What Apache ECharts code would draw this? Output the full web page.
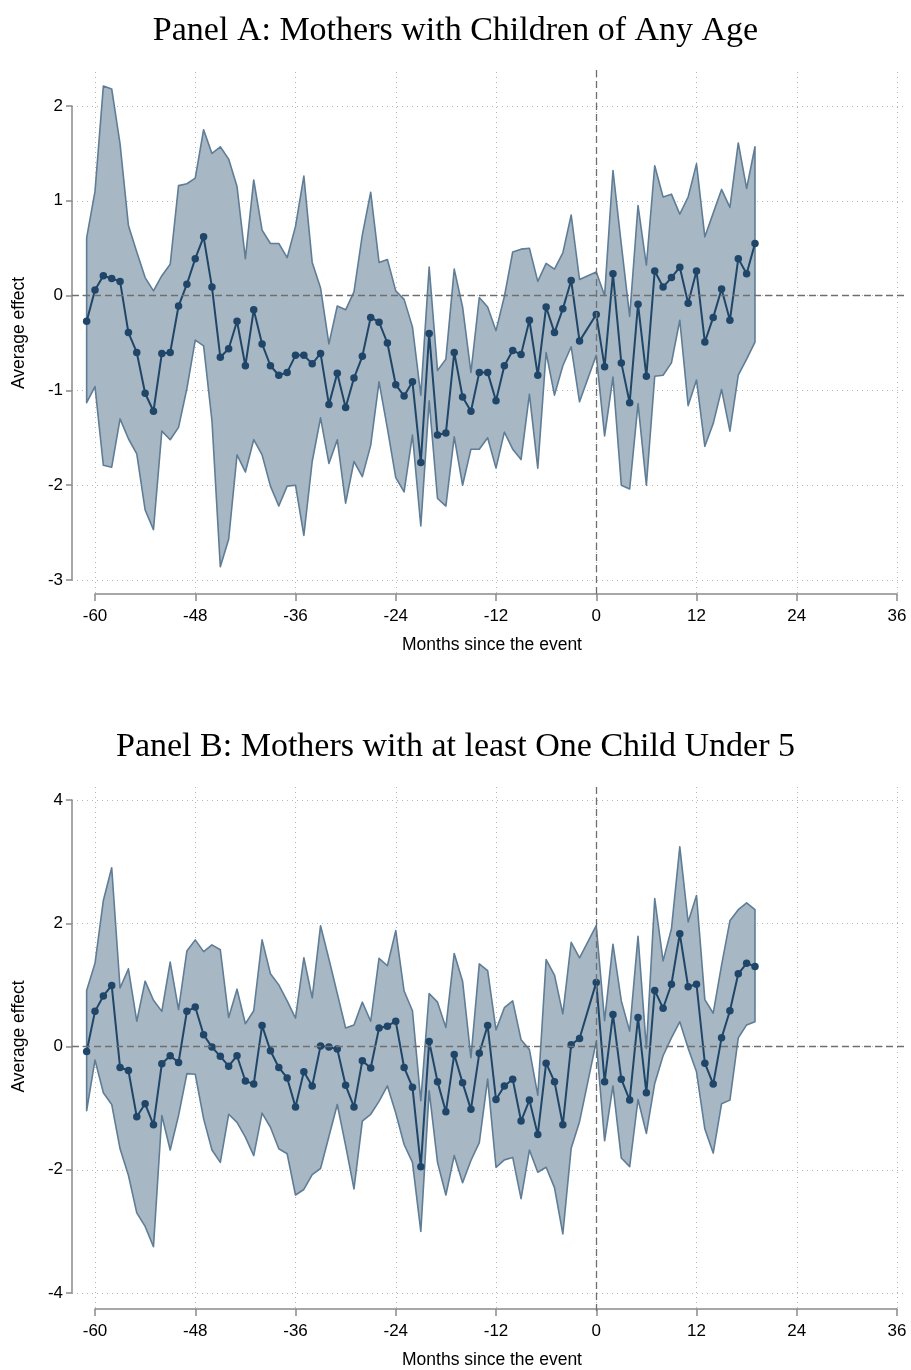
<!DOCTYPE html>
<html>
<head>
<meta charset="utf-8">
<title>Event study: mothers</title>
<script src="https://cdn.jsdelivr.net/npm/echarts@6/dist/echarts.min.js"></script>
<style>
  html, body { margin: 0; padding: 0; background: #fff; }
  #chart { width: 911px; height: 1370px; }
</style>
</head>
<body>
<div id="chart"></div>
<script>
// Months relative to the event (month -1 is the omitted reference period)
const months = [
  -61, -60, -59, -58, -57, -56, -55, -54, -53, -52, -51, -50, -49, -48, -47, -46, -45, -44, -43, -42,
  -41, -40, -39, -38, -37, -36, -35, -34, -33, -32, -31, -30, -29, -28, -27, -26, -25, -24, -23, -22,
  -21, -20, -19, -18, -17, -16, -15, -14, -13, -12, -11, -10, -9, -8, -7, -6, -5, -4, -3, -2,
  0, 1, 2, 3, 4, 5, 6, 7, 8, 9, 10, 11, 12, 13, 14, 15, 16, 17, 18, 19
];

// Panel A: mothers with children of any age
const meanA = [
  -0.27, 0.06, 0.21, 0.18, 0.15, -0.39, -0.60, -1.03, -1.22, -0.61, -0.60, -0.11, 0.12, 0.39, 0.62, 0.09, -0.65, -0.56, -0.27, -0.74,
  -0.15, -0.51, -0.74, -0.84, -0.81, -0.63, -0.63, -0.72, -0.61, -1.15, -0.82, -1.18, -0.87, -0.64, -0.23, -0.28, -0.50, -0.94, -1.06, -0.91,
  -1.76, -0.40, -1.47, -1.45, -0.60, -1.07, -1.22, -0.81, -0.81, -1.11, -0.74, -0.58, -0.62, -0.26, -0.84, -0.12, -0.39, -0.14, 0.16, -0.48,
  -0.20, -0.75, 0.23, -0.71, -1.13, -0.09, -0.85, 0.26, 0.09, 0.19, 0.30, -0.08, 0.26, -0.49, -0.23, 0.07, -0.26, 0.39, 0.23, 0.55
];
const upperA = [
  0.61, 1.10, 2.21, 2.18, 1.60, 0.74, 0.46, 0.19, 0.05, 0.21, 0.33, 1.16, 1.18, 1.24, 1.75, 1.50, 1.57, 1.44, 1.15, 0.39,
  1.22, 0.69, 0.55, 0.55, 0.40, 0.73, 1.26, 0.35, 0.08, -0.51, -0.11, -0.15, 0.04, 0.64, 1.09, 0.35, 0.38, 0.05, -0.04, -0.33,
  -1.05, 0.30, -0.79, -0.67, 0.28, -0.12, -0.81, -0.02, -0.12, -0.37, -0.01, 0.46, 0.49, 0.50, 0.15, 0.34, 0.28, 0.45, 0.85, 0.17,
  0.25, 0.00, 1.32, 0.54, -0.22, 0.95, 0.32, 1.37, 1.04, 1.07, 0.86, 1.04, 1.39, 0.62, 0.87, 1.12, 0.93, 1.61, 1.13, 1.57
];
const lowerA = [
  -1.13, -0.96, -1.79, -1.81, -1.30, -1.51, -1.67, -2.26, -2.47, -1.43, -1.52, -1.39, -0.98, -0.47, -0.53, -1.32, -2.86, -2.57, -1.68, -1.86,
  -1.52, -1.68, -2.01, -2.22, -2.01, -2.00, -2.53, -1.75, -1.29, -1.77, -1.52, -2.19, -1.75, -1.91, -1.58, -0.91, -1.40, -1.92, -2.07, -1.47,
  -2.43, -1.11, -2.14, -2.22, -1.49, -2.00, -1.62, -1.62, -1.50, -1.82, -1.44, -1.62, -1.73, -1.04, -1.82, -0.60, -1.05, -0.74, -0.54, -1.12,
  -0.63, -1.48, -0.86, -2.00, -2.04, -1.14, -2.00, -0.85, -0.84, -0.71, -0.26, -1.16, -0.89, -1.59, -1.35, -0.99, -1.43, -0.84, -0.67, -0.49
];

// Panel B: mothers with at least one child under 5
const meanB = [
  -0.08, 0.57, 0.82, 0.99, -0.34, -0.39, -1.14, -0.93, -1.27, -0.28, -0.15, -0.26, 0.57, 0.64, 0.19, -0.01, -0.16, -0.32, -0.15, -0.56,
  -0.61, 0.34, -0.07, -0.34, -0.51, -0.98, -0.41, -0.64, 0.01, -0.01, -0.04, -0.63, -0.98, -0.23, -0.35, 0.30, 0.33, 0.41, -0.34, -0.66,
  -1.95, 0.08, -0.57, -1.06, -0.13, -0.59, -1.02, -0.11, 0.34, -0.86, -0.64, -0.53, -1.21, -0.87, -1.43, -0.27, -0.57, -1.27, 0.03, 0.13,
  1.04, -0.57, 0.52, -0.53, -0.87, 0.47, -0.75, 0.91, 0.62, 1.01, 1.83, 0.97, 1.01, -0.27, -0.61, 0.14, 0.58, 1.18, 1.35, 1.30
];
const upperB = [
  0.91, 1.35, 2.37, 2.90, 0.95, 1.26, 0.41, 1.06, 0.75, 0.57, 1.37, 0.60, 1.55, 1.73, 1.54, 1.65, 1.57, 0.47, 0.93, 0.37,
  0.58, 1.73, 1.18, 1.00, 0.74, 0.46, 1.44, 0.79, 1.96, 1.42, 0.86, 0.30, 0.35, 0.72, 0.41, 1.43, 1.31, 1.88, 0.90, 0.58,
  -0.88, 0.86, 0.72, 0.31, 1.51, 1.06, -0.18, 1.34, 1.23, 0.27, 0.63, 0.74, 0.11, -0.05, -0.79, 1.41, 1.16, 0.53, 1.69, 1.44,
  1.96, 0.42, 1.66, 0.74, 0.25, 1.79, -0.03, 2.40, 1.39, 1.91, 3.24, 2.02, 2.45, 0.76, 0.54, 1.32, 2.04, 2.22, 2.33, 2.22
];
const lowerB = [
  -1.04, -0.22, -0.75, -0.94, -1.66, -2.09, -2.70, -2.92, -3.25, -1.12, -1.68, -1.12, -0.44, -0.45, -1.17, -1.68, -1.88, -1.10, -1.23, -1.47,
  -1.77, -1.08, -1.31, -1.66, -1.74, -2.41, -2.32, -2.08, -1.98, -1.46, -0.94, -1.61, -2.31, -1.21, -1.10, -0.89, -0.64, -1.08, -1.59, -1.88,
  -3.00, -0.72, -1.88, -2.41, -1.77, -2.21, -1.85, -1.56, -0.53, -1.96, -1.84, -1.80, -2.47, -1.68, -2.04, -1.96, -2.29, -3.04, -1.65, -1.22,
  0.08, -1.53, -0.64, -1.81, -1.95, -0.86, -1.41, -0.60, -0.15, 0.14, 0.40, -0.03, -0.41, -1.34, -1.73, -0.93, -0.87, 0.14, 0.35, 0.40
];

// Axis ticks and texts
const xTicks = { min: -60, max: 36, step: 12 };
const yTicksA = { min: -3, max: 2, step: 1 };
const yTicksB = { min: -4, max: 4, step: 2 };
const titles = ['Panel A: Mothers with Children of Any Age', 'Panel B: Mothers with at least One Child Under 5'];
const xName = 'Months since the event';
const yName = 'Average effect';

// ---- styling ----
const FILL = '#a7b7c4';
const EDGE = '#5f7d96';
const MEAN = '#1f4668';
const AXIS = '#8a8a8a';
const GRIDC = '#b5b5b5';
const REF = '#6f6f6f';
const SANS = '"Liberation Sans", Arial, Helvetica, sans-serif';
const SERIF = '"Liberation Serif", "DejaVu Serif", serif';

// pixel layout of a panel: x tick span, y tick span, plotted region
const X0 = 95, X1 = 897;          // x = -60 .. 36
const PL = 72, PR = 907;          // plotted region left/right
const panels = [
  { top: 68, axisY: 594, yTop: 106, yBot: 580, gridTop: 72, ticks: yTicksA,
    mean: meanA, lo: lowerA, hi: upperA, titleTop: 9 },
  { top: 785, axisY: 1311, yTop: 800, yBot: 1293, gridTop: 787, ticks: yTicksB,
    mean: meanB, lo: lowerB, hi: upperB, titleTop: 725 }
];

const dotted = { type: [1, 4], color: GRIDC, width: 1 };
const grids = [], xAxes = [], yAxes = [], series = [], title = [];

panels.forEach(function (p, k) {
  const g = k * 3;
  // value range of the plotted region, from the tick spans
  const xs = (X1 - X0) / (xTicks.max - xTicks.min);
  const ys = (p.yBot - p.yTop) / (p.ticks.max - p.ticks.min);
  const dxMin = xTicks.min - (X0 - PL) / xs;
  const dxMax = xTicks.max + (PR - X1) / xs;
  const dyMax = p.ticks.max + (p.yTop - p.top) / ys;
  const dyMin = p.ticks.min - (p.axisY - p.yBot) / ys;

  // data grid
  grids.push({ left: PL, width: PR - PL, top: p.top, height: p.axisY - p.top });
  // x axis grid
  grids.push({ left: X0, width: X1 - X0, top: p.gridTop, height: p.axisY - p.gridTop });
  // y axis grid
  grids.push({ left: PL, width: PR - PL, top: p.yTop, height: p.yBot - p.yTop });

  xAxes.push({ gridIndex: g, type: 'value', min: dxMin, max: dxMax, show: false });
  yAxes.push({ gridIndex: g, type: 'value', min: dyMin, max: dyMax, show: false });

  xAxes.push({
    gridIndex: g + 1, type: 'value', min: xTicks.min, max: xTicks.max, interval: xTicks.step,
    axisLine: { show: true, lineStyle: { color: AXIS, width: 1.5 } },
    axisTick: { show: true, length: 7, lineStyle: { color: AXIS, width: 1.5 } },
    axisLabel: { fontSize: 17, color: '#000', fontFamily: SANS, margin: 14 },
    splitLine: { show: true, lineStyle: dotted },
    name: xName, nameLocation: 'middle', nameGap: 42,
    nameTextStyle: { fontSize: 17.5, color: '#000', fontFamily: SANS, padding: [0, 8, 0, 0] }
  });
  yAxes.push({ gridIndex: g + 1, type: 'value', min: 0, max: 1, show: false });

  xAxes.push({ gridIndex: g + 2, type: 'value', min: 0, max: 1, show: false });
  yAxes.push({
    gridIndex: g + 2, type: 'value', min: p.ticks.min, max: p.ticks.max, interval: p.ticks.step,
    axisLine: { show: true, lineStyle: { color: AXIS, width: 1.5 } },
    axisTick: { show: true, length: 6, lineStyle: { color: AXIS, width: 1.5 } },
    axisLabel: { fontSize: 17, color: '#000', fontFamily: SANS, margin: 9 },
    splitLine: { show: true, lineStyle: dotted },
    name: yName, nameLocation: 'middle', nameGap: 44,
    nameTextStyle: { fontSize: 17.5, color: '#000', fontFamily: SANS, padding: [0, 0, 0, 20] }
  });

  // confidence band
  const mo = months, lo = p.lo, hi = p.hi;
  series.push({
    type: 'custom', xAxisIndex: g, yAxisIndex: g, clip: false, silent: true, z: 2,
    data: [[mo[0], lo[0]]],
    renderItem: function (params, api) {
      const pts = [];
      for (let i = 0; i < mo.length; i++) pts.push(api.coord([mo[i], hi[i]]));
      for (let i = mo.length - 1; i >= 0; i--) pts.push(api.coord([mo[i], lo[i]]));
      return {
        type: 'polygon', shape: { points: pts },
        style: { fill: FILL, stroke: EDGE, lineWidth: 1.6, lineJoin: 'round' }
      };
    }
  });

  // point estimates and reference lines
  series.push({
    type: 'line', xAxisIndex: g, yAxisIndex: g, clip: false, silent: true, z: 3,
    data: mo.map(function (m, i) { return [m, p.mean[i]]; }),
    symbol: 'circle', symbolSize: 7.5, showAllSymbol: true,
    lineStyle: { color: MEAN, width: 2 },
    itemStyle: { color: MEAN },
    markLine: {
      silent: true, symbol: 'none', label: { show: false },
      lineStyle: { color: REF, type: [7, 4], width: 1.3 },
      data: [{ yAxis: 0 }, { xAxis: 0 }]
    }
  });

  title.push({
    text: titles[k], left: 'center', top: p.titleTop,
    textStyle: { fontFamily: SERIF, fontSize: 34, fontWeight: 'normal', color: '#000' }
  });
});

const chart = echarts.init(document.getElementById('chart'), null, { renderer: 'canvas' });
chart.setOption({
  animation: false,
  backgroundColor: '#fff',
  title: title,
  grid: grids,
  xAxis: xAxes,
  yAxis: yAxes,
  series: series
});
</script>
</body>
</html>
